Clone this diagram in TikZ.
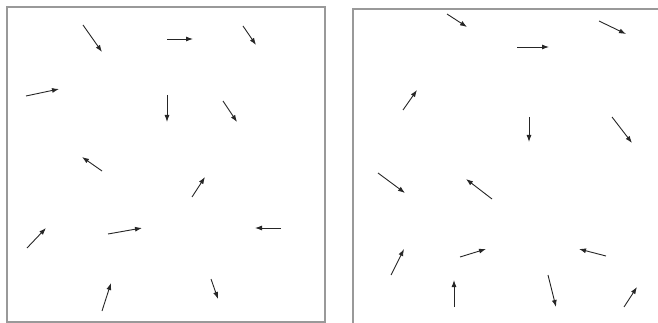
\documentclass[tikz,border=0pt]{standalone}
\usetikzlibrary{arrows.meta}
\begin{document}
\begin{tikzpicture}[x=1pt,y=-1pt,
  frame/.style={draw=black!40,line width=1.5pt},
  vec/.style={draw=black!85,line width=0.9pt,-{Latex[length=7pt,width=5pt]}}]
\useasboundingbox (0,0) rectangle (658,323);
% left panel
\draw[frame] (7,7) rectangle (325,322);
% right panel (left and top edges visible)
\draw[frame] (353,323) -- (353,9) -- (658,9);
% left panel vectors
\draw[vec] (83,25) -- (102,52);
\draw[vec] (167,39) -- (193,39);
\draw[vec] (243,26) -- (256,45);
\draw[vec] (26,96) -- (59,89);
\draw[vec] (167,95) -- (167,122);
\draw[vec] (223,101) -- (237,122);
\draw[vec] (102,171) -- (82,157);
\draw[vec] (192,197) -- (205,177);
\draw[vec] (27,248) -- (46,228);
\draw[vec] (108,234) -- (142,228);
\draw[vec] (281,228) -- (255,228);
\draw[vec] (102,311) -- (111,283);
\draw[vec] (211,279) -- (218,299);
% right panel vectors
\draw[vec] (447,14) -- (467,27);
\draw[vec] (517,47) -- (549,47);
\draw[vec] (599,21) -- (626,34);
\draw[vec] (403,110) -- (417,90);
\draw[vec] (529,117) -- (529,142);
\draw[vec] (612,117) -- (632,143);
\draw[vec] (378,173) -- (405,193);
\draw[vec] (492,199) -- (466,179);
\draw[vec] (391,275) -- (404,249);
\draw[vec] (460,257) -- (486,249);
\draw[vec] (606,256) -- (579,249);
\draw[vec] (454,307) -- (454,280);
\draw[vec] (548,275) -- (556,307);
\draw[vec] (624,307) -- (637,287);
\end{tikzpicture}
\end{document}
